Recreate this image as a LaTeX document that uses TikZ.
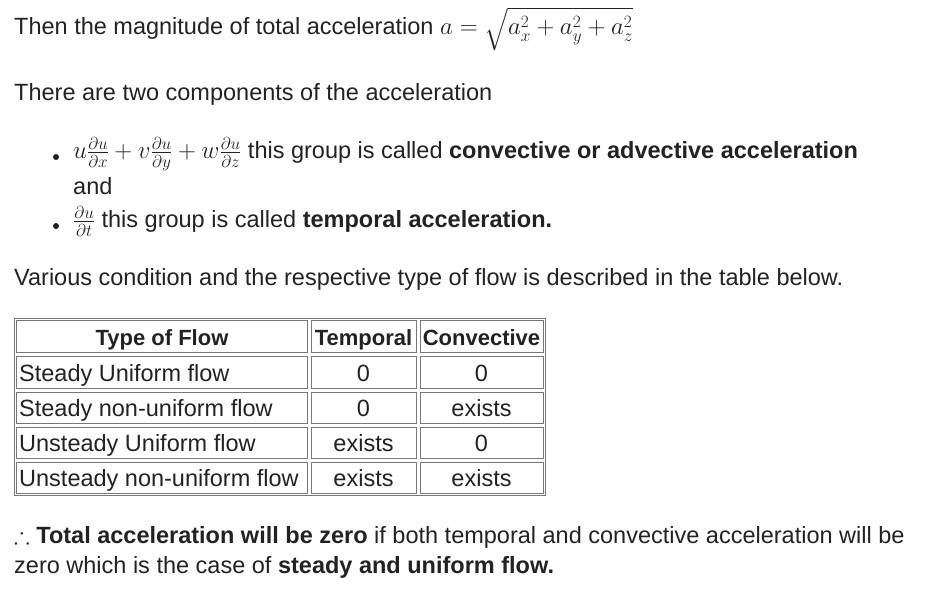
\documentclass[tikz,border=0pt]{standalone}
\usepackage{amssymb}
\usepackage{amsmath}
\usepackage{fontspec}
\setmainfont{Liberation Sans}
\usetikzlibrary{positioning}
\definecolor{txt}{HTML}{222222}
\definecolor{rule}{HTML}{777777}
\tikzset{
  line/.style={anchor=base west, inner sep=0pt, text=txt, font=\fontsize{23.5}{28}\selectfont},
  cellbox/.style={draw=rule, line width=0.8pt},
  celltext/.style={anchor=base, inner sep=0pt, text=txt, font=\fontsize{23.5}{28}\selectfont},
  headtext/.style={celltext, font=\fontsize{22}{26}\selectfont\bfseries},
  bulletdot/.style={circle, fill=txt, inner sep=0pt, minimum size=6pt}
}
\begin{document}
\begin{tikzpicture}[x=1pt,y=-1pt]
	\useasboundingbox (0,0) rectangle (941,593);
	% text above the table
	\node[line] (magn) at (14,35) {Then the magnitude of total acceleration $a = \sqrt{a_x^2+a_y^2+a_z^2}$};
	\node[line] (comp) at (14,101) {There are two components of the acceleration};
	\node[bulletdot] (dot1) at (56,157) {};
	\node[line] (conv) at (73,159) {$u\frac{\partial u}{\partial x}+v\frac{\partial u}{\partial y}+w\frac{\partial u}{\partial z}$ this group is called \textbf{convective or advective acceleration}};
	\node[line] (and) at (73,195) {and};
	\node[bulletdot] (dot2) at (56,226) {};
	\node[line] (temp) at (73,228) {$\frac{\partial u}{\partial t}$ this group is called \textbf{temporal acceleration.}};
	\node[line] (vari) at (14,285) {Various condition and the respective type of flow is described in the table below.};
	% table
	\draw[cellbox] (14,318) rectangle (545,495);
	\foreach \ya/\yb [count=\r] in {318/354,354/390,390/425,425/460,460/495}
	  \foreach \xa/\xb [count=\c] in {14/309,309/418,418/545}
	    \draw[cellbox] (\xa+2,\ya+2) rectangle (\xb-2,\yb-2);
	\node[headtext] (h1) at (162,345) {Type of Flow};
	\node[headtext] (h2) at (363.5,345) {Temporal};
	\node[headtext] (h3) at (481.5,345) {Convective};
	\foreach \name/\tv/\cv/\y [count=\r] in {Steady Uniform flow/0/0/381,Steady non-uniform flow/0/exists/416,Unsteady Uniform flow/exists/0/451,Unsteady non-uniform flow/exists/exists/486}{
	  \node[celltext, anchor=base west] (n\r) at (19,\y) {\name};
	  \node[celltext] (t\r) at (363.5,\y) {\tv};
	  \node[celltext] (c\r) at (481.5,\y) {\cv};
	}
	% conclusion
	\node[line] (zero) at (14,543) {$\therefore$ \textbf{Total acceleration will be zero} if both temporal and convective acceleration will be};
	\node[line] (case) at (14,573) {zero which is the case of \textbf{steady and uniform flow.}};
\end{tikzpicture}
\end{document}
